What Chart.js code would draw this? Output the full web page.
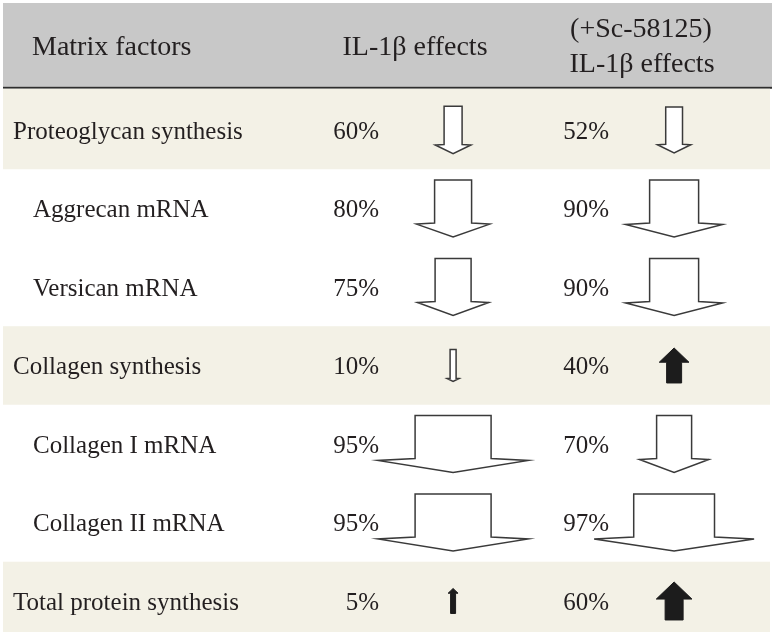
<!DOCTYPE html>
<html>
<head>
<meta charset="utf-8">
<script src="https://cdn.jsdelivr.net/npm/chart.js@4/dist/chart.umd.min.js"></script>
<style>
  html, body { margin: 0; padding: 0; background: #ffffff; }
  #wrap { width: 776px; height: 637px; }
</style>
</head>
<body>
<div id="wrap"><canvas id="c" width="776" height="637"></canvas></div>
<script>
// ---------------- DATA ----------------
const headerLabels = ["Matrix factors", "IL-1β effects", "(+Sc-58125)", "IL-1β effects"];
const factors = ["Proteoglycan synthesis", "Aggrecan mRNA", "Versican mRNA",
                 "Collagen synthesis", "Collagen I mRNA", "Collagen II mRNA",
                 "Total protein synthesis"];
const isSubItem = [false, true, true, false, true, true, false];
const il1Values = [60, 80, 75, 10, 95, 95, 5];
const il1Direction = ["down", "down", "down", "down", "down", "down", "up"];
const scValues = [52, 90, 90, 40, 70, 97, 60];
const scDirection = ["down", "down", "down", "up", "down", "down", "up"];

// ---------------- STYLE / LAYOUT ----------------
const FONT = '"Liberation Serif", "Times New Roman", serif';
const TEXT = '#231f20';
const HEADER_BG = '#c8c8c8';
const BAND_BG = '#f3f1e6';
// arrow width encoding (value -> shaft width in px), piecewise linear
const widthKnots = [[0,4],[10,6],[40,15],[60,18],[70,35],[80,37],[90,49],[95,76],[100,88]];
function shaftWidth(v) {
  for (let i = 1; i < widthKnots.length; i++) {
    const [x0,y0] = widthKnots[i-1], [x1,y1] = widthKnots[i];
    if (v <= x1) return y0 + (y1 - y0) * (v - x0) / (x1 - x0);
  }
  return widthKnots[widthKnots.length-1][1];
}
const COL = { pct1: 0.665, arrow1: 1, pct2: 1.706, arrow2: 2 };

function drawArrow(ctx, cx, cy, v, dir) {
  const sw = shaftWidth(v);
  const hw = sw * 1.98;
  ctx.save();
  ctx.lineJoin = 'miter';
  if (dir === 'down') {
    const h = Math.min(57, 24 + 1.3 * sw);
    const hh = Math.min(14, 0.26 * hw);
    const top = cy - h / 2, tip = cy + h / 2, base = tip - hh;
    const drop = Math.min(2, hw * 0.015);
    ctx.beginPath();
    ctx.moveTo(cx - sw/2, top);
    ctx.lineTo(cx + sw/2, top);
    ctx.lineTo(cx + sw/2, base);
    ctx.lineTo(cx + hw/2, base + drop);
    ctx.lineTo(cx, tip);
    ctx.lineTo(cx - hw/2, base + drop);
    ctx.lineTo(cx - sw/2, base);
    ctx.closePath();
    ctx.fillStyle = '#ffffff';
    ctx.fill();
    ctx.strokeStyle = '#3a3a3a';
    ctx.lineWidth = 1.5;
    ctx.stroke();
  } else {
    const h = 20 + sw;
    const hh = 0.48 * hw;
    const tip = cy - h / 2, bottom = cy + h / 2, base = tip + hh;
    ctx.beginPath();
    ctx.moveTo(cx, tip);
    ctx.lineTo(cx + hw/2, base);
    ctx.lineTo(cx + sw/2, base);
    ctx.lineTo(cx + sw/2, bottom);
    ctx.lineTo(cx - sw/2, bottom);
    ctx.lineTo(cx - sw/2, base);
    ctx.lineTo(cx - hw/2, base);
    ctx.closePath();
    ctx.fillStyle = '#1c1c1c';
    ctx.fill();
    ctx.strokeStyle = '#1c1c1c';
    ctx.lineWidth = 1;
    ctx.stroke();
  }
  ctx.restore();
}

const tablePlugin = {
  id: 'tablePlugin',
  beforeDatasetsDraw(chart) {
    const ctx = chart.ctx;
    const ys = chart.scales.y;
    const half = Math.abs(ys.getPixelForValue(0) - ys.getPixelForValue(1)) / 2;
    ctx.save();
    // header band
    const headerBottom = ys.getPixelForValue(-0.5) - 4;
    ctx.fillStyle = HEADER_BG;
    ctx.fillRect(3, 3, 769, headerBottom - 3);
    ctx.fillStyle = '#2e2e2e';
    ctx.fillRect(3, headerBottom, 769, 2);
    // shaded rows (main factors)
    factors.forEach((f, i) => {
      if (isSubItem[i]) return;
      const c = ys.getPixelForValue(i);
      let t = c - half, b = c + half;
      if (i === 0) t = headerBottom + 2;
      if (i === factors.length - 1) b = Math.min(b, 632);
      ctx.fillStyle = BAND_BG;
      ctx.fillRect(3, t, 767, b - t);
    });
    ctx.restore();
  },
  afterDatasetsDraw(chart) {
    const ctx = chart.ctx;
    const xs = chart.scales.x, ys = chart.scales.y;
    // arrows, placed at the dataset points
    const sets = [[il1Values, il1Direction], [scValues, scDirection]];
    chart.data.datasets.forEach((ds, di) => {
      const meta = chart.getDatasetMeta(di);
      meta.data.forEach((el, i) => {
        drawArrow(ctx, el.x, el.y, sets[di][0][i], sets[di][1][i]);
      });
    });
    // texts
    ctx.save();
    ctx.fillStyle = TEXT;
    ctx.textBaseline = 'alphabetic';
    ctx.font = '28px ' + FONT;
    ctx.textAlign = 'left';
    ctx.fillText(headerLabels[0], 32, 55);
    ctx.textAlign = 'center';
    ctx.fillText(headerLabels[1], 415, 55);
    ctx.fillText(headerLabels[2], 641, 37);
    ctx.fillText(headerLabels[3], 642, 72);
    ctx.font = '25px ' + FONT;
    factors.forEach((f, i) => {
      const y = ys.getPixelForValue(i) + 9;
      ctx.textAlign = 'left';
      ctx.fillText(f, isSubItem[i] ? 33 : 13, y);
      ctx.textAlign = 'right';
      ctx.fillText(il1Values[i] + '%', xs.getPixelForValue(COL.pct1), y);
      ctx.fillText(scValues[i] + '%', xs.getPixelForValue(COL.pct2), y);
    });
    ctx.restore();
  }
};

new Chart(document.getElementById('c'), {
  type: 'scatter',
  data: {
    datasets: [
      { label: 'IL-1β effects', data: factors.map((f, i) => ({ x: COL.arrow1, y: i })), pointRadius: 0 },
      { label: '(+Sc-58125) IL-1β effects', data: factors.map((f, i) => ({ x: COL.arrow2, y: i })), pointRadius: 0 }
    ]
  },
  options: {
    responsive: false,
    animation: false,
    layout: { padding: 0 },
    plugins: { legend: { display: false }, tooltip: { enabled: false } },
    scales: {
      x: { type: 'linear', min: -1.05, max: 2.461, display: false },
      y: { type: 'linear', min: -1.656, max: 6.459, reverse: true, display: false }
    }
  },
  plugins: [tablePlugin]
});
</script>
</body>
</html>
